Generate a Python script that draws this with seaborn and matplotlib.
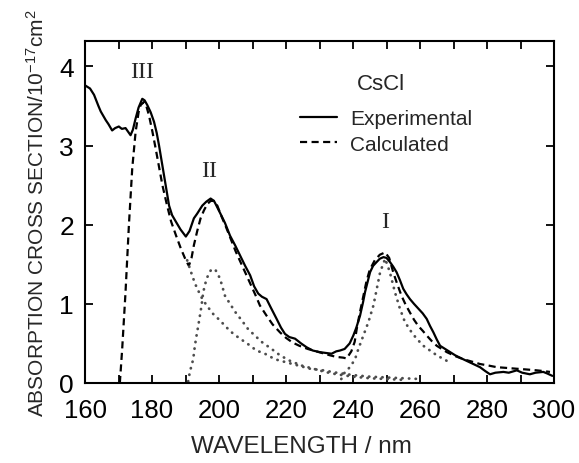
import matplotlib
matplotlib.use("Agg")
import matplotlib.pyplot as plt
import numpy as np
import pandas as pd
import seaborn as sns

# ---------------- data ----------------
exp_wl = [160.0, 161.5, 162.7, 164.0, 164.7, 166.2, 167.0, 168.1, 169.0, 170.1, 171.0, 172.1,
          173.6, 174.3, 175.1, 176.0, 177.1, 177.8, 178.6, 179.6, 180.6, 181.4, 182.1, 183.6,
          185.1, 186.0, 187.1, 188.5, 190.1, 191.2, 192.5, 193.5, 195.0, 196.2, 197.5, 198.5,
          199.0, 200.3, 201.8, 203.3, 204.8, 206.3, 207.8, 209.3, 210.5, 211.7, 212.8, 214.2,
          215.5, 217.2, 218.5, 219.7, 221.0, 222.7, 224.5, 226.2, 228.0, 230.1, 231.8, 233.6,
          235.0, 236.1, 237.5, 239.0, 240.1, 241.0, 242.1, 243.0, 243.6, 244.5, 245.1, 246.0,
          247.1, 248.0, 249.1, 250.0, 251.0, 252.0, 253.0, 254.0, 255.0, 256.0, 257.0, 258.2,
          259.5, 260.8, 262.0, 263.0, 264.0, 265.0, 266.0, 267.5, 269.0, 270.5, 271.9, 273.4,
          274.9, 276.4, 277.9, 279.5, 280.9, 282.5, 284.9, 286.5, 288.9, 290.5, 292.8, 294.5,
          296.8, 298.0, 299.5]
exp_sigma = [3.76, 3.72, 3.64, 3.50, 3.43, 3.32, 3.27, 3.19, 3.22, 3.24, 3.21, 3.22,
             3.13, 3.20, 3.34, 3.48, 3.59, 3.57, 3.51, 3.42, 3.30, 3.16, 3.00, 2.62,
             2.24, 2.12, 2.04, 1.94, 1.85, 1.92, 2.08, 2.14, 2.24, 2.29, 2.33, 2.30,
             2.26, 2.15, 2.02, 1.86, 1.74, 1.61, 1.48, 1.36, 1.22, 1.13, 1.09, 1.06,
             0.95, 0.81, 0.70, 0.62, 0.58, 0.56, 0.50, 0.45, 0.41, 0.39, 0.38, 0.37,
             0.40, 0.41, 0.43, 0.50, 0.60, 0.70, 0.85, 1.02, 1.15, 1.30, 1.40, 1.48,
             1.53, 1.57, 1.59, 1.58, 1.53, 1.47, 1.40, 1.30, 1.19, 1.12, 1.06, 1.00,
             0.94, 0.88, 0.81, 0.72, 0.64, 0.55, 0.47, 0.43, 0.39, 0.35, 0.32, 0.29,
             0.26, 0.23, 0.20, 0.15, 0.11, 0.13, 0.14, 0.13, 0.16, 0.13, 0.11, 0.13,
             0.14, 0.12, 0.09]

calc_wl = [170.4, 171.1, 172.1, 173.1, 174.1, 175.1, 176.0, 176.6, 177.6, 178.3, 179.1, 180.1,
           181.1, 182.1, 183.1, 184.4, 185.7, 187.2, 188.6, 190.0, 191.0, 191.8, 192.5, 193.5,
           194.5, 195.5, 196.5, 197.5, 198.5, 199.5, 200.5, 202.0, 203.5, 205.0, 206.5, 208.0,
           209.5, 211.0, 212.2, 214.2, 216.0, 218.2, 220.0, 222.0, 224.0, 226.5, 229.0, 231.5,
           233.1, 235.0, 237.1, 238.1, 239.5, 240.5, 241.1, 242.0, 243.1, 244.0, 245.0, 246.5,
           248.0, 249.6, 250.8, 252.0, 253.2, 254.5, 255.7, 257.0, 258.2, 259.5, 260.8, 262.0,
           263.5, 265.0, 266.5, 268.0, 270.5, 273.0, 275.5, 277.9, 280.5, 282.9, 286.0, 288.9,
           292.0, 294.8, 297.0, 298.8]
calc_sigma = [0.00, 0.43, 1.15, 1.99, 2.71, 3.17, 3.42, 3.51, 3.55, 3.50, 3.38, 3.18,
              2.96, 2.73, 2.50, 2.26, 2.04, 1.86, 1.70, 1.56, 1.48, 1.58, 1.74, 1.92,
              2.08, 2.18, 2.26, 2.30, 2.30, 2.24, 2.13, 1.98, 1.82, 1.66, 1.52, 1.38,
              1.24, 1.10, 0.98, 0.85, 0.74, 0.64, 0.57, 0.51, 0.47, 0.43, 0.40, 0.37,
              0.35, 0.33, 0.32, 0.31, 0.40, 0.52, 0.68, 0.88, 1.10, 1.28, 1.43, 1.55,
              1.62, 1.65, 1.58, 1.40, 1.25, 1.10, 0.99, 0.89, 0.80, 0.72, 0.66, 0.60,
              0.53, 0.47, 0.43, 0.39, 0.34, 0.30, 0.27, 0.24, 0.22, 0.20, 0.19, 0.18,
              0.17, 0.16, 0.15, 0.14]

band3_wl = [190.5, 191.5, 192.3, 193.3, 194.8, 196.3, 198.3, 200.3, 202.3, 204.3, 206.3, 208.7,
            211.2, 213.7, 216.7, 220.2, 223.7, 227.2, 231.1, 235.1, 240.0, 245.0, 250.0, 255.0,
            260.0]
band3_sigma = [1.55, 1.42, 1.32, 1.21, 1.08, 0.98, 0.87, 0.79, 0.70, 0.62, 0.56, 0.49,
               0.41, 0.37, 0.30, 0.26, 0.22, 0.18, 0.16, 0.13, 0.10, 0.08, 0.07, 0.06,
               0.05]

band2_wl = [190.8, 191.3, 192.3, 192.8, 193.3, 193.8, 194.3, 194.8, 195.3, 196.3, 197.5, 198.8,
            200.3, 201.8, 203.3, 204.8, 206.8, 208.7, 210.7, 212.7, 215.7, 218.2, 221.2, 224.7,
            228.2, 231.6, 235.1, 240.0, 245.0, 250.0, 255.0]
band2_sigma = [0.02, 0.14, 0.30, 0.47, 0.60, 0.72, 0.85, 0.98, 1.15, 1.32, 1.42, 1.44,
               1.32, 1.10, 1.00, 0.90, 0.79, 0.68, 0.60, 0.52, 0.43, 0.35, 0.28, 0.22,
               0.18, 0.14, 0.11, 0.08, 0.06, 0.05, 0.04]

band1_wl = [236.5, 237.6, 239.1, 240.6, 241.6, 243.1, 244.6, 246.1, 247.1, 248.1, 249.6, 251.0,
            252.5, 254.0, 255.5, 257.5, 259.0, 261.0, 263.0, 265.0, 268.0]
band1_sigma = [0.05, 0.14, 0.20, 0.30, 0.43, 0.60, 0.77, 0.98, 1.19, 1.40, 1.57, 1.40,
               1.15, 0.94, 0.77, 0.64, 0.56, 0.47, 0.41, 0.35, 0.28]

band_labels = ["III", "II", "I"]
band_label_wl = [176.9, 196.9, 249.6]
band_label_sigma = [3.94, 2.69, 2.04]

x_ticks = [160, 180, 200, 220, 240, 260, 280, 300]
y_ticks = [0, 1, 2, 3, 4]

# ---------------- styling ----------------
sns.set_style("ticks")
plt.rcParams["font.family"] = ["Liberation Sans", "DejaVu Sans"]
plt.rcParams["mathtext.default"] = "regular"

fig = plt.figure(figsize=(5.79, 4.64), dpi=100)
ax = fig.add_axes([85 / 579, 80 / 464, 469 / 579, 342 / 464])

sns.lineplot(x=exp_wl, y=exp_sigma, ax=ax, color="black", lw=1.6,
             estimator=None, sort=False, label="Experimental")
sns.lineplot(x=calc_wl, y=calc_sigma, ax=ax, color="black", lw=1.6,
             linestyle=(0, (3.2, 2.0)), estimator=None, sort=False, label="Calculated")
for bw, bs in [(band3_wl, band3_sigma), (band2_wl, band2_sigma), (band1_wl, band1_sigma)]:
    sns.lineplot(x=bw, y=bs, ax=ax, color="0.3", lw=2.0,
                 linestyle=(0, (0.1, 2.3)), dash_capstyle="round",
                 estimator=None, sort=False)

for lab, lx, ly in zip(band_labels, band_label_wl, band_label_sigma):
    ax.text(lx, ly, lab, ha="center", va="center", fontsize=17,
            family=["Liberation Serif", "DejaVu Serif"])

ax.set_xlim(160, 300)
ax.set_ylim(0, 4.32)
ax.set_xticks(x_ticks)
ax.set_xticks(list(range(170, 300, 20)), minor=True)
ax.set_yticks(y_ticks)
ax.tick_params(which="both", direction="in", top=True, right=True,
               length=5.5, width=1.3, colors="black")
ax.tick_params(axis="x", which="both", pad=10.5, labelsize=18.5)
ax.tick_params(axis="y", which="both", pad=8, labelsize=19)
for sp in ax.spines.values():
    sp.set_linewidth(1.5)
    sp.set_color("black")

ax.set_xlabel("WAVELENGTH / nm", fontsize=17.5, labelpad=10, x=0.462)
ax.set_ylabel("ABSORPTION CROSS SECTION/10$^{-17}$cm$^{2}$", fontsize=15, labelpad=8)

handles, labels = ax.get_legend_handles_labels()
keep = [(h, l) for h, l in zip(handles, labels) if l in ("Experimental", "Calculated")]
leg = ax.legend([h for h, _ in keep], [l for _, l in keep], loc="upper left",
                bbox_to_anchor=(0.458, 0.80), frameon=False, fontsize=15,
                handlelength=1.8, handletextpad=0.6, labelspacing=0.3,
                borderpad=0, borderaxespad=0)
ax.text(241.2, 3.78, "CsCl", ha="left", va="center", fontsize=16)

fig.savefig("out.png", dpi=100)
